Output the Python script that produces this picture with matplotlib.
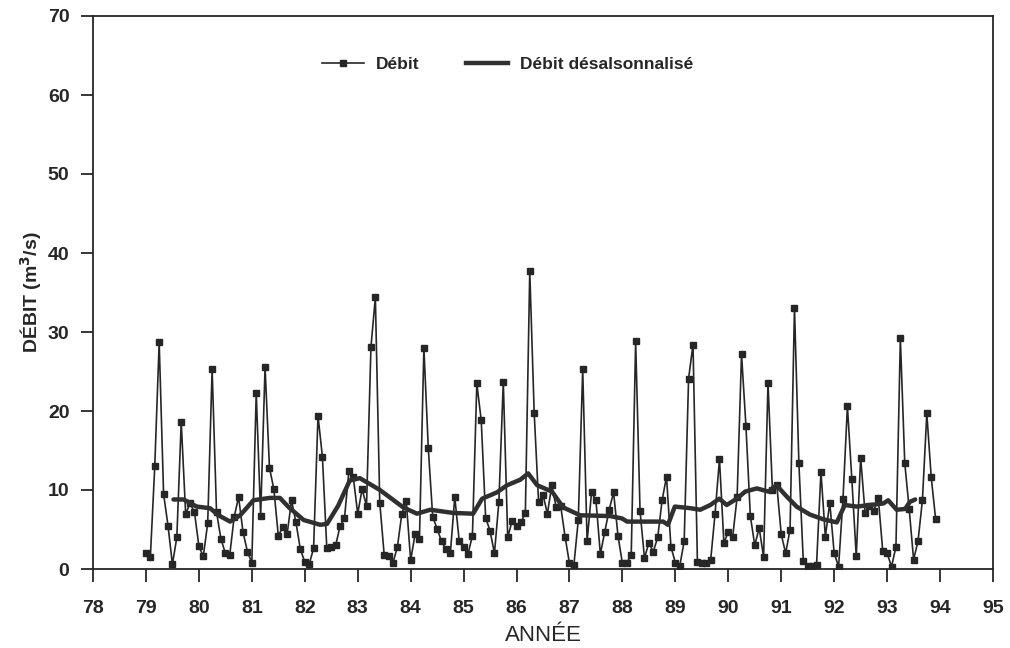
import numpy as np
import matplotlib
matplotlib.use("Agg")
import matplotlib.pyplot as plt
from matplotlib.lines import Line2D

plt.rcParams['font.family'] = ['Liberation Sans', 'DejaVu Sans']

# Monthly flow (m3/s), Jan 1979 .. Dec 1993
debit_1979 = [2.0, 1.5, 13.0, 28.7, 9.5, 5.5, 0.6, 4.0, 18.6, 7.0, 8.3, 7.2]
debit_1980 = [2.9, 1.6, 5.8, 25.3, 7.2, 3.8, 2.0, 1.8, 6.6, 9.1, 4.7, 2.2]
debit_1981 = [0.8, 22.3, 6.7, 25.6, 12.8, 10.1, 4.2, 5.3, 4.4, 8.7, 5.9, 2.5]
debit_1982 = [0.9, 0.6, 2.6, 19.4, 14.2, 2.6, 2.8, 3.0, 5.4, 6.4, 12.4, 11.6]
debit_1983 = [7.0, 10.1, 8.0, 28.1, 34.4, 8.4, 1.8, 1.6, 0.8, 2.8, 7.0, 8.6]
debit_1984 = [1.1, 4.4, 3.8, 28.0, 15.3, 6.6, 5.1, 3.5, 2.5, 2.0, 9.1, 3.6]
debit_1985 = [2.8, 1.9, 4.2, 23.5, 18.8, 6.5, 4.8, 2.0, 8.5, 23.7, 4.0, 6.1]
debit_1986 = [5.4, 5.9, 7.1, 37.7, 19.8, 8.5, 9.4, 7.0, 10.6, 7.8, 8.0, 4.1]
debit_1987 = [0.7, 0.5, 6.2, 25.3, 3.5, 9.7, 8.7, 1.9, 4.7, 7.5, 9.7, 4.2]
debit_1988 = [0.7, 0.8, 1.8, 28.8, 7.3, 1.4, 3.3, 2.2, 4.0, 8.7, 11.7, 2.8]
debit_1989 = [0.8, 0.4, 3.5, 24.1, 28.4, 0.9, 0.7, 0.8, 1.1, 7.0, 13.9, 3.3]
debit_1990 = [4.7, 4.1, 9.1, 27.2, 18.1, 6.7, 3.0, 5.2, 1.5, 23.6, 10.0, 10.6]
debit_1991 = [4.4, 2.0, 5.0, 33.1, 13.4, 1.0, 0.4, 0.4, 0.5, 12.3, 4.1, 8.4]
debit_1992 = [2.0, 0.3, 8.9, 20.6, 11.4, 1.6, 14.1, 7.1, 8.0, 7.4, 9.0, 2.3]
debit_1993 = [2.0, 0.3, 2.8, 29.2, 13.4, 7.6, 1.2, 3.5, 8.7, 19.7, 11.6, 6.3]

debit = (debit_1979 + debit_1980 + debit_1981 + debit_1982 + debit_1983 +
         debit_1984 + debit_1985 + debit_1986 + debit_1987 + debit_1988 +
         debit_1989 + debit_1990 + debit_1991 + debit_1992 + debit_1993)
first_year = 79
months = [first_year + i / 12.0 for i in range(len(debit))]

# Deseasonalised flow (decimal year, value)
desais_t = [79.52, 79.71, 79.96, 80.21, 80.37, 80.59, 80.78, 81.03, 81.34, 81.53,
            81.70, 81.98, 82.29, 82.42, 82.63, 82.85, 83.04, 83.42, 83.86, 84.12,
            84.37, 84.80, 85.18, 85.35, 85.63, 85.82, 86.07, 86.22, 86.39, 86.67,
            86.88, 87.20, 87.77, 87.99, 88.09, 88.77, 88.86, 88.99, 89.28, 89.47,
            89.66, 89.83, 89.97, 90.16, 90.32, 90.54, 90.76, 90.91, 91.10, 91.29,
            91.54, 91.79, 92.05, 92.20, 92.43, 92.68, 92.93, 93.02, 93.18, 93.34,
            93.43, 93.53]
desais_v = [8.8, 8.8, 7.9, 7.7, 6.8, 6.0, 6.8, 8.7, 9.0, 9.0,
            7.8, 6.2, 5.6, 5.7, 8.0, 11.2, 11.5, 10.0, 7.8, 7.0,
            7.5, 7.1, 7.0, 8.9, 9.7, 10.6, 11.3, 12.1, 10.6, 9.8,
            7.8, 6.8, 6.7, 6.4, 6.0, 6.0, 5.6, 7.9, 7.7, 7.5,
            8.1, 8.9, 8.1, 8.9, 9.8, 10.2, 9.8, 10.6, 9.2, 7.9,
            6.9, 6.3, 5.9, 8.1, 7.9, 8.1, 8.3, 8.7, 7.5, 7.6,
            8.5, 8.8]

x_ticks = list(range(78, 96))
y_ticks = list(range(0, 71, 10))

fig = plt.figure(figsize=(10.10, 6.48), dpi=100)
ax = fig.add_axes([93/1010, 1 - 569/648, 900/1010, 553/648])

ink = '#262626'
ax.plot(months, debit, color=ink, lw=1.2, marker='s', ms=4.5,
        mfc=ink, mec=ink, zorder=3)
ax.plot(desais_t, desais_v, color='#303030', lw=3.2, zorder=4,
        solid_capstyle='round', solid_joinstyle='round')

ax.set_xlim(78, 95)
ax.set_ylim(0, 70)
ax.set_xticks(x_ticks)
ax.set_xticklabels([str(t) for t in x_ticks])
ax.set_yticks(y_ticks)
ax.set_yticklabels([str(t) for t in y_ticks])
ax.tick_params(axis='both', direction='out', length=9, width=1.3, colors=ink,
               labelsize=14)
ax.tick_params(axis='x', pad=13)
ax.tick_params(axis='y', pad=8)
for lbl in ax.get_xticklabels() + ax.get_yticklabels():
    lbl.set_fontweight('bold')
for s in ax.spines.values():
    s.set_linewidth(1.3)
    s.set_color(ink)

ax.set_xlabel('ANNÉE', fontsize=16, color=ink, labelpad=6)
ax.set_ylabel('DÉBIT (m$^{\\mathbf{3}}$/s)', fontsize=14, fontweight='bold',
              color=ink, labelpad=3)

handles = [Line2D([], [], color=ink, lw=1.2, marker='s', ms=4.5, mfc=ink, mec=ink),
           Line2D([], [], color='#303030', lw=3.2)]
leg = ax.legend(handles, ['Débit', 'Débit désalsonnalisé'], loc='upper left',
                bbox_to_anchor=(0.237, 0.955), ncol=2, frameon=False,
                handlelength=2.4, columnspacing=2.7, handletextpad=0.7,
                prop={'size': 12.5, 'weight': 'bold'})
for t in leg.get_texts():
    t.set_color(ink)

fig.savefig('out.png', dpi=100)
